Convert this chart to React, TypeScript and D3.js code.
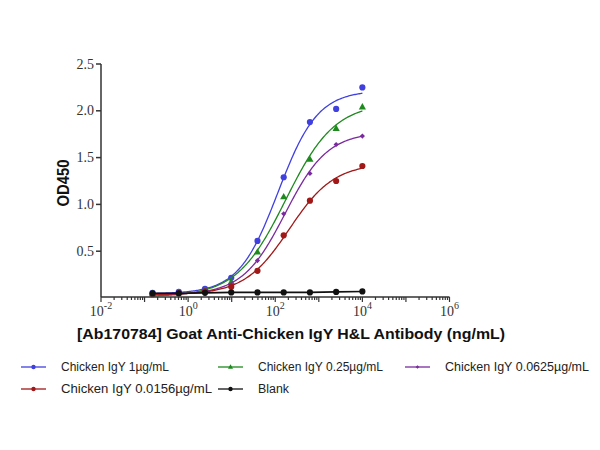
import React, { useMemo } from "react";
import * as d3 from "d3";

// Concentrations (ng/mL)
const concentrations = [0.1526, 0.6104, 2.441, 9.766, 39.06, 156.25, 625, 2500, 10000];

const igY1 = [0.056, 0.066, 0.098, 0.216, 0.61, 1.29, 1.88, 2.02, 2.25];
const igY025 = [0.045, 0.055, 0.08, 0.17, 0.49, 1.08, 1.48, 1.81, 2.04];
const igY00625 = [0.045, 0.05, 0.07, 0.14, 0.40, 0.90, 1.33, 1.64, 1.73];
const igY00156 = [0.04, 0.05, 0.07, 0.12, 0.29, 0.67, 1.04, 1.25, 1.41];
const blank = [0.05, 0.05, 0.055, 0.06, 0.06, 0.06, 0.06, 0.065, 0.07];

const seriesNames = [
  "Chicken IgY 1µg/mL",
  "Chicken IgY 0.25µg/mL",
  "Chicken IgY 0.0625µg/mL",
  "Chicken IgY 0.0156µg/mL",
  "Blank",
];
const seriesColors = ["#4040e0", "#1e8a1e", "#7a2a9e", "#a01818", "#111111"];
const seriesShapes = ["circle", "triangle", "diamond", "circle", "circle"];
const seriesFit = [true, true, true, true, false];

const yTicks = [0.5, 1.0, 1.5, 2.0, 2.5];
const xTickExps = [-2, 0, 2, 4, 6];

const allValues = [igY1, igY025, igY00625, igY00156, blank];

function model(p: number[], lx: number) {
  const [b, t, c, h] = p;
  return b + (t - b) / (1 + Math.pow(10, (c - lx) * h));
}

// Least-squares four-parameter logistic fit (Nelder–Mead)
function fit4pl(xs: number[], ys: number[]) {
  const lxs = xs.map((x) => Math.log10(x));
  const sse = (p: number[]) => {
    let s = 0;
    for (let i = 0; i < lxs.length; i++) {
      const r = model(p, lxs[i]) - ys[i];
      s += r * r;
    }
    if (p[3] <= 0) s += 1e6;
    return s;
  };
  const n = 4;
  let simplex: number[][] = [];
  const start = [Math.min(...ys), Math.max(...ys) * 1.05, 2, 1];
  simplex.push(start);
  const steps = [0.05, 0.3, 0.5, 0.3];
  for (let i = 0; i < n; i++) {
    const p = start.slice();
    p[i] += steps[i];
    simplex.push(p);
  }
  let vals = simplex.map(sse);
  for (let iter = 0; iter < 4000; iter++) {
    const order = d3.range(n + 1).sort((a, b) => vals[a] - vals[b]);
    simplex = order.map((i) => simplex[i]);
    vals = order.map((i) => vals[i]);
    const centroid = d3.range(n).map((j) => d3.mean(simplex.slice(0, n), (p) => p[j]) as number);
    const worst = simplex[n];
    const refl = centroid.map((c, j) => c + (c - worst[j]));
    const fr = sse(refl);
    if (fr < vals[0]) {
      const exp = centroid.map((c, j) => c + 2 * (c - worst[j]));
      const fe = sse(exp);
      if (fe < fr) { simplex[n] = exp; vals[n] = fe; } else { simplex[n] = refl; vals[n] = fr; }
    } else if (fr < vals[n - 1]) {
      simplex[n] = refl; vals[n] = fr;
    } else {
      const con = centroid.map((c, j) => c + 0.5 * (worst[j] - c));
      const fc = sse(con);
      if (fc < vals[n]) { simplex[n] = con; vals[n] = fc; }
      else {
        for (let i = 1; i <= n; i++) {
          simplex[i] = simplex[i].map((v, j) => simplex[0][j] + 0.5 * (v - simplex[0][j]));
          vals[i] = sse(simplex[i]);
        }
      }
    }
  }
  const bi = d3.minIndex(vals);
  return simplex[bi];
}

function Marker({ shape, x, y, color, s = 1 }: { shape: string; x: number; y: number; color: string; s?: number }) {
  if (shape === "triangle") {
    const r = 4 * s;
    return <path d={`M${x},${y - r}L${x + r * 0.9},${y + r * 0.6}L${x - r * 0.9},${y + r * 0.6}Z`} fill={color} />;
  }
  if (shape === "diamond") {
    const r = 2.6 * s;
    return <path d={`M${x},${y - r}L${x + r},${y}L${x},${y + r}L${x - r},${y}Z`} fill={color} />;
  }
  return <circle cx={x} cy={y} r={3.1 * s} fill={color} />;
}

export default function App() {
  const x = d3.scaleLog().domain([1e-2, 1e6]).range([101, 449.5]);
  const y = d3.scaleLinear().domain([0, 2.5]).range([298, 64]);
  const baseY = 297;

  const fits = useMemo(
    () => allValues.map((vals, i) => (seriesFit[i] ? fit4pl(concentrations, vals) : null)),
    []
  );

  const minorTicks: number[] = [];
  for (let e = -2; e < 6; e++) {
    for (let k = 1; k <= 9; k++) minorTicks.push(k * Math.pow(10, e));
  }
  minorTicks.push(1e6);

  const lineGen = d3
    .line<[number, number]>()
    .x((d) => x(d[0]))
    .y((d) => y(d[1]));

  const legendPos = [
    [21, 367],
    [218, 367],
    [405, 367],
    [21, 389],
    [218, 389],
  ];
  const legendTextLen = [108, 125, 144, 151, 31];

  return (
    <svg width={600} height={450} style={{ position: "absolute", left: 0, top: 0, background: "#fff" }}>
      {/* series */}
      {allValues.map((vals, si) => {
        const color = seriesColors[si];
        let path: string;
        if (fits[si]) {
          const lx0 = Math.log10(concentrations[0]);
          const lx1 = Math.log10(concentrations[concentrations.length - 1]);
          const pts: [number, number][] = d3.range(0, 201).map((i) => {
            const lx = lx0 + ((lx1 - lx0) * i) / 200;
            return [Math.pow(10, lx), model(fits[si] as number[], lx)];
          });
          path = lineGen(pts) as string;
        } else {
          path = lineGen(concentrations.map((c, i) => [c, vals[i]] as [number, number])) as string;
        }
        return (
          <g key={si}>
            <path d={path} fill="none" stroke={color} strokeWidth={si === 4 ? 1.6 : 1.3} />
            {vals.map((v, i) => (
              <Marker key={i} shape={seriesShapes[si]} x={x(concentrations[i])} y={y(v)} color={color} />
            ))}
          </g>
        );
      })}
      {/* axes */}
      <g stroke="#333" strokeWidth={1.5}>
        <line x1={101} x2={101} y1={y(2.5)} y2={baseY} />
        <line x1={101} x2={449.5} y1={baseY} y2={baseY} />
        {yTicks.map((t) => (
          <line key={t} x1={96} x2={101} y1={y(t)} y2={y(t)} />
        ))}
        {minorTicks.map((t, i) => {
          const major = Math.abs(Math.log10(t) - Math.round(Math.log10(t))) < 1e-9;
          return <line key={i} x1={x(t)} x2={x(t)} y1={baseY} y2={baseY + (major ? 5 : 3)} strokeWidth={1.2} />;
        })}
      </g>
      <g fontFamily="'Liberation Serif', 'Times New Roman', serif" fontSize={14} fill="#333">
        {yTicks.map((t) => (
          <text key={t} x={94} y={y(t)} dy="0.33em" textAnchor="end">
            {t.toFixed(1)}
          </text>
        ))}
        {xTickExps.map((e) => (
          <text key={e} x={x(Math.pow(10, e))} y={316} textAnchor="middle">
            10
            <tspan dy={-7} fontSize={10}>
              {e}
            </tspan>
          </text>
        ))}
      </g>
      <text
        transform="translate(69,183) rotate(-90)"
        textAnchor="middle"
        fontFamily="'Liberation Sans', Arial, sans-serif"
        fontWeight="bold"
        fontSize={17}
        textLength={47}
        lengthAdjust="spacingAndGlyphs"
        fill="#111"
      >
        OD450
      </text>
      <text
        x={77}
        y={339}
        fontFamily="'Liberation Sans', Arial, sans-serif"
        fontWeight="bold"
        fontSize={15.5}
        textLength={428}
        lengthAdjust="spacingAndGlyphs"
        fill="#111"
      >
        [Ab170784] Goat Anti-Chicken IgY H&amp;L Antibody (ng/mL)
      </text>
      {/* legend */}
      {seriesNames.map((name, i) => {
        const [lx, ly] = legendPos[i];
        return (
          <g key={name}>
            <line x1={lx} x2={lx + 25} y1={ly} y2={ly} stroke={seriesColors[i]} strokeWidth={1.3} />
            <Marker shape={seriesShapes[i]} x={lx + 12.5} y={ly} color={seriesColors[i]} s={0.7} />
            <text
              x={lx + 40}
              y={ly}
              dy="0.35em"
              fontFamily="'Liberation Sans', Arial, sans-serif"
              fontSize={12.5}
              textLength={legendTextLen[i]}
              lengthAdjust="spacingAndGlyphs"
              fill="#222"
            >
              {name}
            </text>
          </g>
        );
      })}
    </svg>
  );
}
